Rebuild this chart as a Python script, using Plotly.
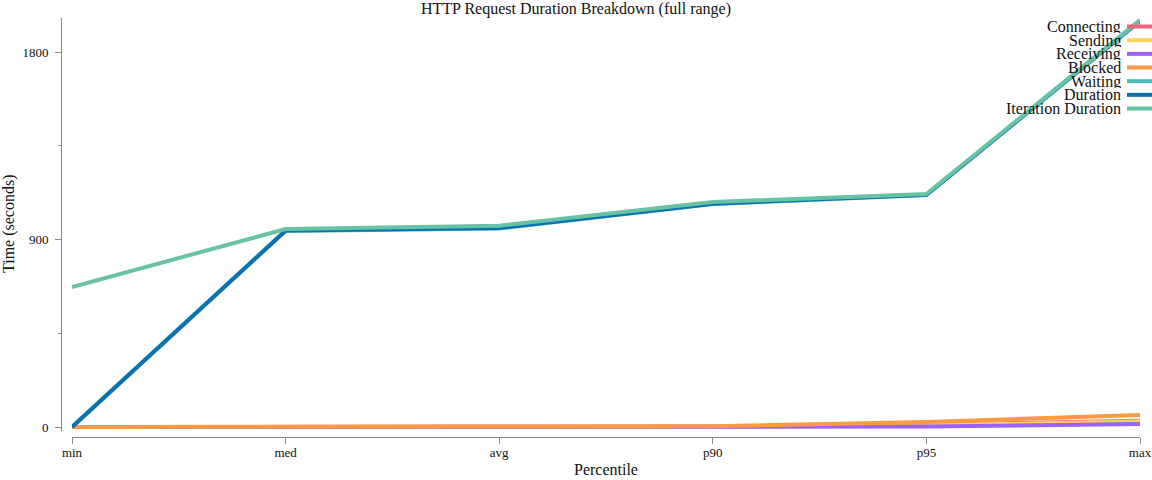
import plotly.graph_objects as go

categories = ["min", "med", "avg", "p90", "p95", "max"]
series_names = ["Connecting", "Sending", "Receiving", "Blocked", "Waiting", "Duration", "Iteration Duration"]
connecting = [0, 0, 0.3, 1.5, 12, 30]
sending = [0, 0, 0.3, 1.2, 8, 27]
receiving = [0, 0, 0.2, 0.8, 2, 15]
blocked = [0, 0.5, 1, 4, 24, 58]
waiting = [0, 941, 953, 1070, 1113, 1948]
duration = [0, 943, 955, 1072, 1115, 1950]
iteration_duration = [672, 950, 966, 1080, 1118, 1953]
series_values = [connecting, sending, receiving, blocked, waiting, duration, iteration_duration]
colors = ["#f0627a", "#fdd25f", "#9d62f5", "#fb9a42", "#4cbdb6", "#0b71b0", "#67c3a4"]
y_tickvals = [0, 900, 1800]
y_ticktext = ["0", "900", "1800"]

FONT = "Liberation Serif"
W, H = 1152, 480
L, R, T, B = 61, 12, 18, 43
PW, PH = W - L - R, H - T - B

def px_x(px):
    return (px - L) / PW

def px_y(py):
    return (H - B - py) / PH

fig = go.Figure()
for name, vals, col in zip(series_names, series_values, colors):
    fig.add_trace(go.Scatter(x=categories, y=vals, name=name, mode="lines",
                             line=dict(color=col, width=4), showlegend=False))

# manual legend (text to the left of the swatch)
legend_y0, legend_dy = 26.5, 13.67
for i, (name, col) in enumerate(zip(series_names, colors)):
    yy = legend_y0 + i * legend_dy
    fig.add_annotation(x=px_x(1122), y=px_y(yy), xref="paper", yref="paper",
                       text=name, showarrow=False, xanchor="right", yanchor="middle",
                       height=13, borderpad=0,
                       font=dict(family=FONT, size=16, color="#111"))
    fig.add_shape(type="line", xref="paper", yref="paper",
                  x0=px_x(1127), x1=px_x(1152), y0=px_y(yy), y1=px_y(yy),
                  line=dict(color=col, width=4))

# axis titles
fig.add_annotation(x=px_x(606), y=px_y(469), xref="paper", yref="paper", text="Percentile",
                   showarrow=False, xanchor="center", yanchor="middle",
                   font=dict(family=FONT, size=16, color="#111"))
fig.add_annotation(x=px_x(9), y=px_y(224), xref="paper", yref="paper", text="Time (seconds)",
                   showarrow=False, xanchor="center", yanchor="middle", textangle=-90,
                   font=dict(family=FONT, size=16, color="#111"))

# y range so that 0 -> 427px and 1800 -> 52px
ppu = (427 - 52) / 1800.0
ybot_px = 437 - 6  # bottom of y domain
ytop_px = T
y0 = -(ybot_px - 427) / ppu
y1 = (427 - ytop_px) / ppu

fig.update_layout(
    width=W, height=H,
    margin=dict(l=L, r=R, t=T, b=B, autoexpand=False),
    paper_bgcolor="white", plot_bgcolor="white",
    font=dict(family=FONT, size=13, color="#111"),
    title=dict(text="HTTP Request Duration Breakdown (full range)", x=0.5, xref="container",
               y=1 - 8 / H, yanchor="middle", font=dict(family=FONT, size=16, color="#111")),
    xaxis=dict(type="category", domain=[px_x(72), px_x(1140)], range=[0, 5],
               anchor="free", position=0, showline=True, linecolor="#888", linewidth=1,
               ticks="outside", ticklen=6, tickcolor="#888", showgrid=False, zeroline=False,
               automargin=False, ticklabelstandoff=-3,
               tickfont=dict(family=FONT, size=13, color="#111")),
    yaxis=dict(domain=[px_y(ybot_px), 1], range=[y0, y1], anchor="free", position=0,
               showline=True, linecolor="#888", linewidth=1,
               tickvals=y_tickvals, ticktext=y_ticktext,
               ticks="outside", ticklen=6, tickcolor="#888", showgrid=False, zeroline=False,
               automargin=False, ticklabelstandoff=4,
               minor=dict(tickvals=[450, 1350], ticks="outside", ticklen=3, tickcolor="#888"),
               tickfont=dict(family=FONT, size=13, color="#111")),
)

fig.write_html("out.html")
